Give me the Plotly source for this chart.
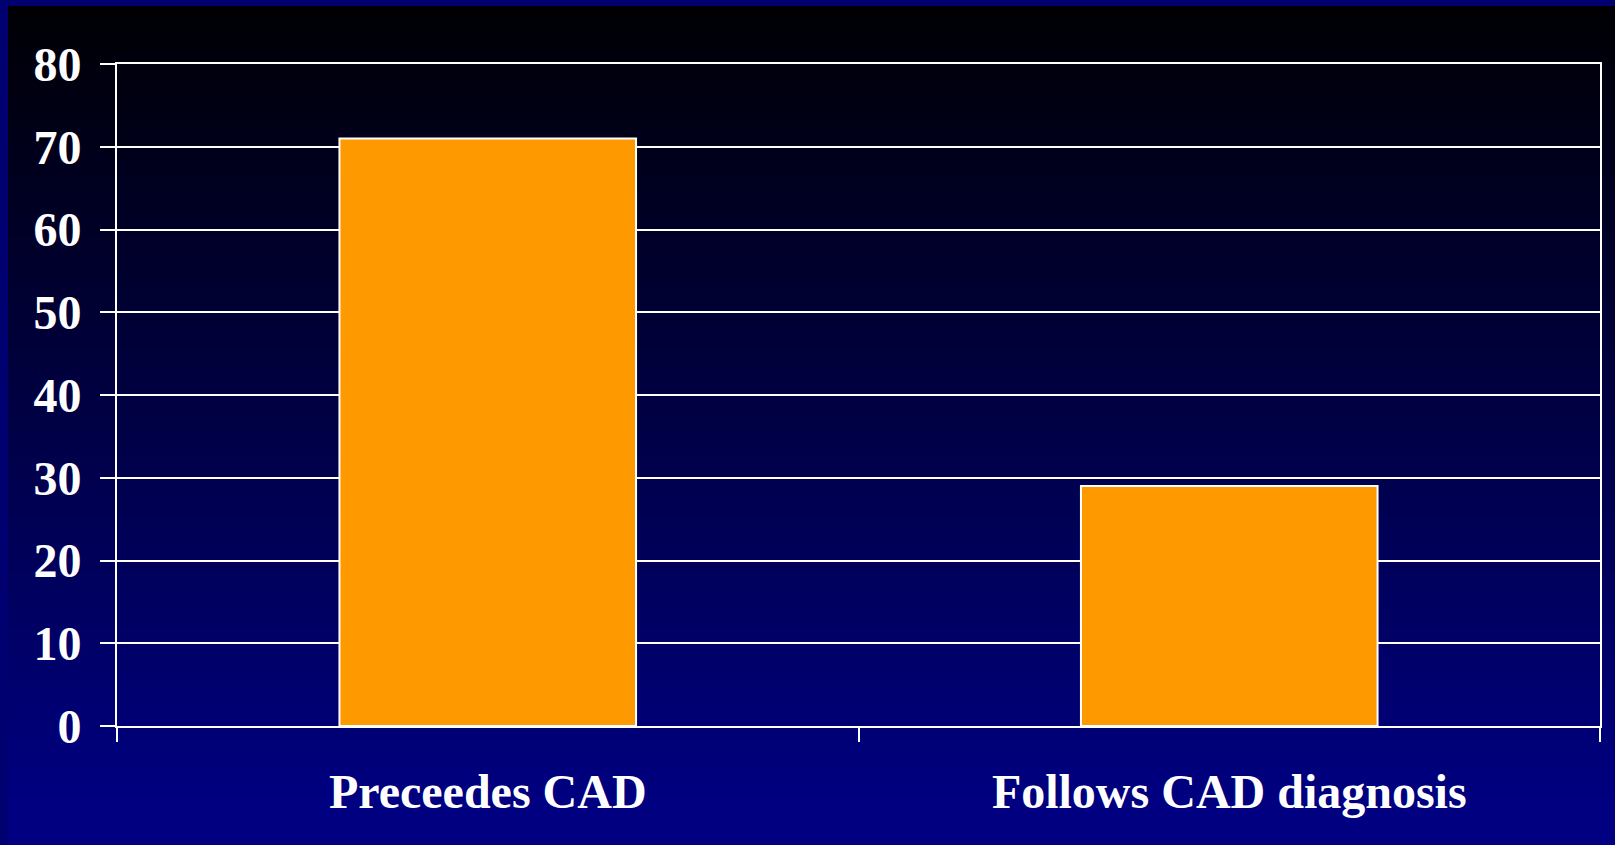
import plotly.graph_objects as go

# Share of cases by timing relative to CAD diagnosis
categories = ["Preceedes CAD", "Follows CAD diagnosis"]
values = [71, 29]
y_ticks = [0, 10, 20, 30, 40, 50, 60, 70, 80]

W, H = 1615, 845

fig = go.Figure(
    go.Bar(
        x=categories,
        y=values,
        marker=dict(color="#ff9900", line=dict(color="white", width=2)),
        hoverinfo="skip",
    )
)

# vertical black-to-navy gradient behind everything, inside a thin navy frame
shapes = []
x0 = 8 / W
n = 160
top_px, bot_px = 6, 800
for i in range(n):
    ya = top_px + (bot_px - top_px) * i / n
    yb = top_px + (bot_px - top_px) * (i + 1) / n
    t = (i + 0.5) / n
    b = int(round(4 + (128 - 4) * t))
    shapes.append(dict(
        type="rect", xref="paper", yref="paper", layer="below",
        x0=x0, x1=1, y0=1 - (yb + 1) / H, y1=1 - ya / H,
        fillcolor=f"rgb(0,0,{b})", line=dict(width=0),
    ))
shapes.append(dict(
    type="rect", xref="paper", yref="paper", layer="below",
    x0=x0, x1=1, y0=0, y1=1 - bot_px / H,
    fillcolor="rgb(0,0,128)", line=dict(width=0),
))

font_family = "Liberation Serif, Times New Roman, serif"

fig.update_layout(
    width=W, height=H,
    margin=dict(l=0, r=0, t=0, b=0, pad=0),
    paper_bgcolor="#000070",
    plot_bgcolor="rgba(0,0,0,0)",
    bargap=0.6,
    showlegend=False,
    shapes=shapes,
    xaxis=dict(
        domain=[117 / W, 1600 / W],
        type="category",
        automargin=False,
        tickson="boundaries",
        ticks="outside", ticklen=14, tickwidth=2, tickcolor="white",
        showline=True, linecolor="white", linewidth=2, mirror=True,
        showgrid=False, zeroline=False,
        tickfont=dict(family=font_family, size=48, color="white", weight="bold"),
        ticklabelstandoff=22,
    ),
    yaxis=dict(
        domain=[1 - 726 / H, 1 - 64 / H],
        range=[0, 80],
        automargin=False,
        tickvals=y_ticks,
        ticks="outside", ticklen=15, tickwidth=2, tickcolor="white",
        showline=True, linecolor="white", linewidth=2, mirror=True,
        showgrid=True, gridcolor="white", gridwidth=1.5,
        zeroline=False,
        tickfont=dict(family=font_family, size=48, color="white", weight="bold"),
        ticklabelstandoff=9,
    ),
)

fig.write_html("out.html")
